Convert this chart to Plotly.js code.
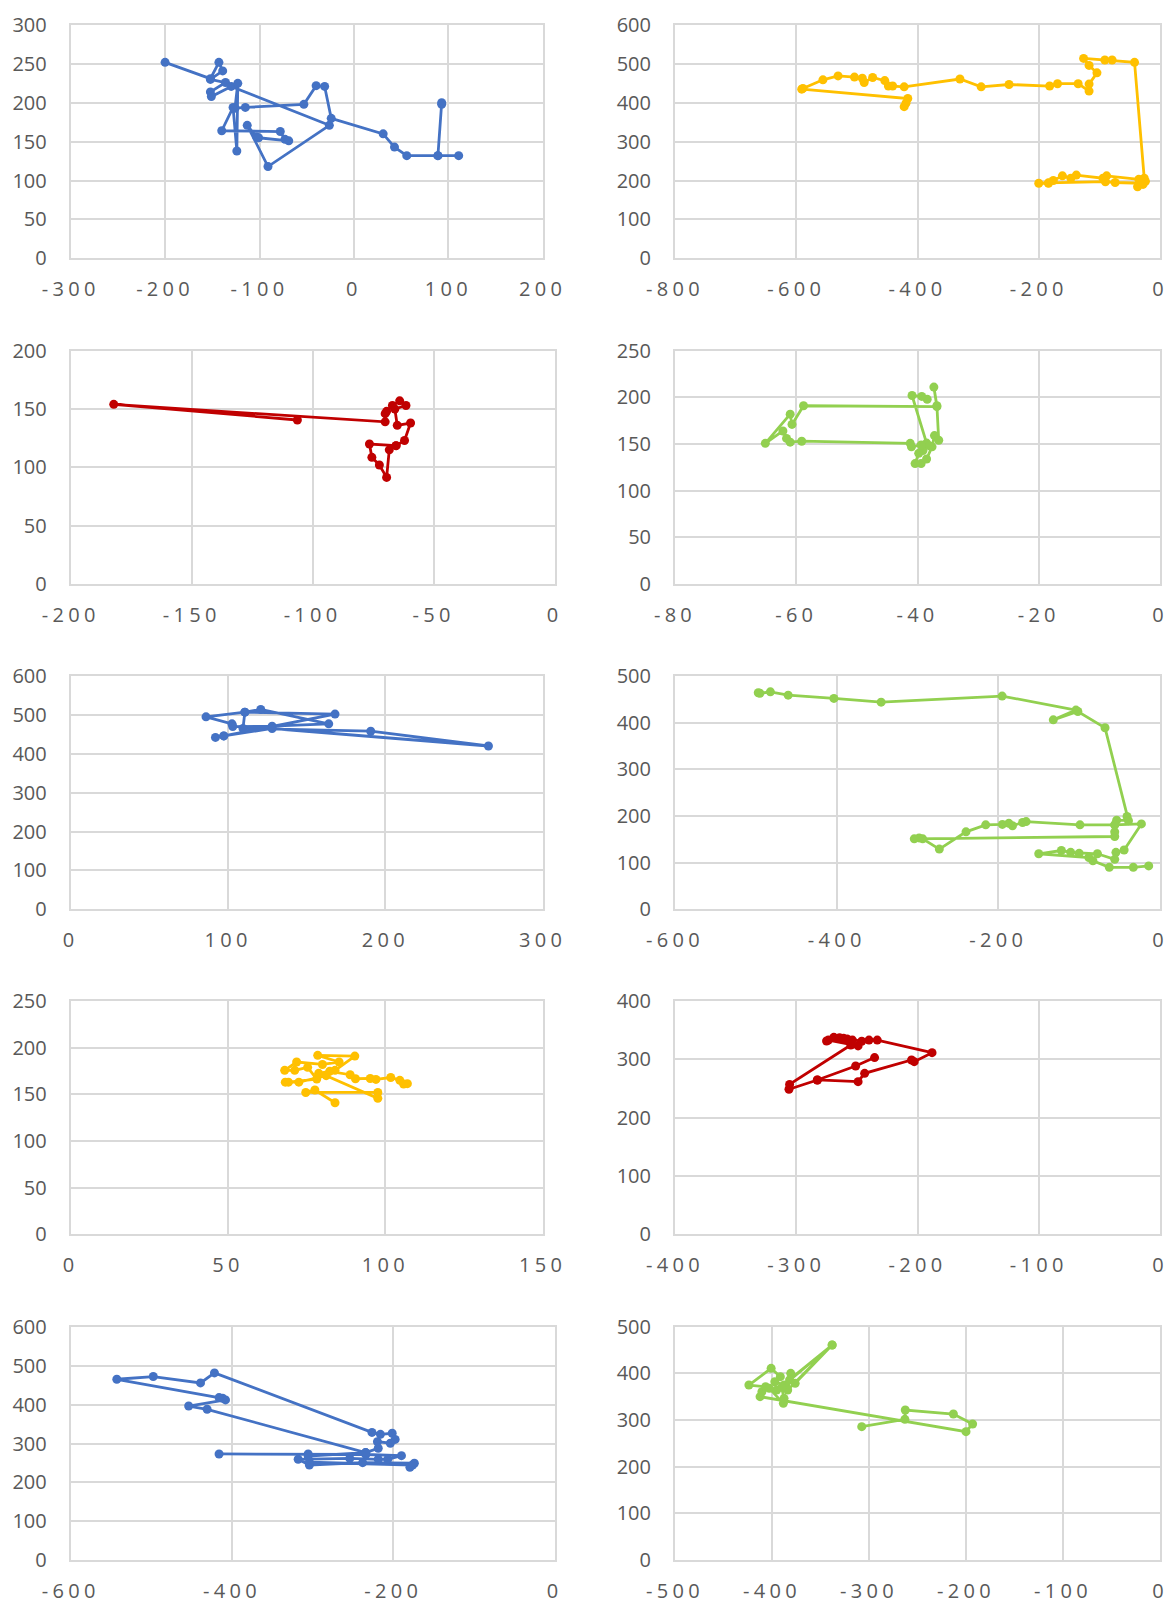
<!DOCTYPE html>
<html><head><meta charset="utf-8">
<script src="https://cdn.plot.ly/plotly-3.0.1.min.js"></script>
<style>
html,body{margin:0;padding:0;background:#fff;}
#chart{width:1168px;height:1602px;}
.xaxislayer-above text{letter-spacing:4.3px;}
</style></head><body><div id="chart"></div>
<script>
// ---- data ----
const p1x=[-200,-152,-143,-139,-152,-136,-152,-151,-130,-26,-91,-113,-103,-101,-69,-73,-78,-140,-128,-124,-123,-126,-115,-53,-40,-31,-24,31,43,56,89,93,93,89,111];
const p1y=[252,231,252,241,230,226,214,208,221,171,118,171,156,155,151,153,163,164,194,138,225,193,194,198,222,221,180,160,143,132,132,198,200,132,132];
const p2x=[-422,-419,-416,-591,-589,-556,-531,-504,-491,-488,-474,-454,-448,-441,-422,-330,-295,-249,-182,-169,-135,-117,-117,-104,-117,-126,-91,-79,-42,-26,-24,-35,-88,-94,-138,-147,-161,-176,-184,-200,-184,-90,-74,-30,-37,-28];
const p2y=[390,399,411,435,437,459,469,466,463,452,465,457,443,443,441,461,441,447,443,449,449,430,448,477,496,514,510,510,504,206,198,203,212,206,214,206,212,200,193,193,194,197,195,193,184,190];
const p3x=[-106.3,-182.2,-70,-70,-69.4,-67,-64,-61.4,-66,-65,-59.5,-62,-65.5,-76.5,-75.5,-72.4,-69.4,-68.3,-65.5];
const p3y=[140.6,154,139,146,148,153,157,153,150,136,138,123,118.6,120,108.6,102,91.4,115,118.6];
const p4x=[-38.4,-39.3,-40.9,-38.5,-39.1,-39.8,-40.4,-39.4,-38.5,-37.6,-37.2,-36.5,-36.8,-37.3,-36.8,-58.8,-60.7,-61,-65.1,-62.2,-61.6,-61,-59.1,-41.2,-41,-39.4,-38];
const p4y=[198,201,202,151,143,140,129,129,134,147,159,154,191,211,190,191,171,182,150.7,164,156,152,153,150.7,147,149,148];
const p5x=[92,97.3,168,110.7,86,102.5,103,128,164,120.8,110.7,109.5,190.7,265.5,128,97.3];
const p5y=[442,446,502,507,495,477,470,471,477,514,507,465,458,420,465,446];
const p6x=[-497,-495,-482,-460,-403.4,-345,-195.3,-104,-132,-101.6,-68,-40.8,-39,-53.6,-56,-99,-165.6,-170,-182.5,-187,-195,-215.6,-240,-273,-293.6,-298,-304,-56,-56,-56,-23,-44.4,-54.5,-56,-77.4,-100,-110.5,-122,-150,-88,-83,-62.7,-33,-14];
const p6y=[464,463,466,459,452,444,457,427,406,424,389,199,190,191,181,181,188,186,179,184.3,182,181,166,129,151,153,151,156,166,181,183,127,122,107,119,120,122,126,119,111,104,90,90,93];
const p7x=[84,77.6,74.7,97.6,97.6,81.2,72.5,68.2,69.2,78.2,75.3,71.2,68,71.8,80,85.3,78.5,90.3,84,78.8,82.3,88.8,90.5,95.2,97,101.7,104.6,105.8,107];
const p7y=[141,154.6,152,152,145.7,170,163,163,163,166.4,178.9,175.7,175.7,184.6,182,184.6,191.8,191,175.7,172.5,174.6,171,166.7,167,166,168,165,161,161.4];
const p8x=[-235.4,-251,-282.6,-306,-305.5,-255,-249,-273.5,-275,-269,-264.3,-261,-258,-253.7,-246,-240,-233.2,-188,-202.7,-204.9,-243.6,-249,-282.6];
const p8y=[303,288.6,264.6,248.6,257,324.6,323,333,331.4,337.7,337,336,335,333,331,333,333,311.4,296,298.9,276,261.7,264.6];
const p9x=[-416,-305.5,-234,-189.8,-206.8,-218.6,-253.9,-317.9,-304,-237.9,-173.8,-179.3,-176,-304,-305.5,-234.2,-430.8,-453.7,-408,-411.6,-416,-542.8,-497.6,-439,-421.7,-226.4,-215.9,-201.3,-197.6,-203.6,-219.6,-218.6,-234.2];
const p9y=[273.4,273.4,272,269,259.7,259.7,262,259.7,245,251,249.4,239,245,252,268,276.9,388.6,397,412.7,417,418.7,466,473,456.6,482.4,329,324,326.7,311,301,305,288,276.9];
const p10x=[-307.5,-263,-262.6,-213,-193.2,-200,-412.3,-410.4,-406.6,-423.8,-400.9,-391.4,-397.1,-387.6,-338,-383.8,-380.7,-381.9,-376.1,-338,-395.2,-402.8,-388.3,-387.6,-390];
const p10y=[285.7,301.4,321.4,312.9,291.4,275,350,360.7,371.4,375,410.7,392.9,382,375,460.7,364.3,400,385.7,378.6,460.7,364.3,367.9,335.7,346.4,370];

// tick values per panel (labels are these numbers as plain text)
const xTicks=[[-300,-200,-100,0,100,200],[-800,-600,-400,-200,0],[-200,-150,-100,-50,0],[-80,-60,-40,-20,0],[0,100,200,300],
  [-600,-400,-200,0],[0,50,100,150],[-400,-300,-200,-100,0],[-600,-400,-200,0],[-500,-400,-300,-200,-100,0]];
const yTicks=[[0,50,100,150,200,250,300],[0,100,200,300,400,500,600],[0,50,100,150,200],[0,50,100,150,200,250],[0,100,200,300,400,500,600],
  [0,100,200,300,400,500],[0,50,100,150,200,250],[0,100,200,300,400],[0,100,200,300,400,500,600],[0,100,200,300,400,500]];

// ---- styling / layout ----
const series=[[p1x,p1y],[p2x,p2y],[p3x,p3y],[p4x,p4y],[p5x,p5y],[p6x,p6y],[p7x,p7y],[p8x,p8y],[p9x,p9y],[p10x,p10y]];
const BLUE='#4472C4',YEL='#FFC000',RED='#C00000',GRN='#92D050';
const colors=[BLUE,YEL,RED,GRN,BLUE,GRN,YEL,RED,BLUE,GRN];
const W=1168,H=1602;
// [left,right,top,bottom] in px
const boxes=[[70.7,542.7,25,258.3],[675,1160,25,258.3],[70.7,554.5,350.7,584],[675,1160,350.7,584],
[70.7,542.7,676,909.3],[675,1160,676,909.3],[70.7,542.7,1001,1234.3],[675,1160,1001,1234.3],
[70.7,554.5,1327.3,1560],[675,1160,1326.7,1560]];

const tickFont={family:'Open Sans, Liberation Sans, sans-serif',size:20,color:'#595959'};
const data=[];
const layout={width:W,height:H,margin:{l:0,r:0,t:0,b:0},paper_bgcolor:'#fff',plot_bgcolor:'#fff',showlegend:false};
series.forEach((s,i)=>{
  const n=i===0?'':String(i+1);
  data.push({x:s[0],y:s[1],xaxis:'x'+n,yaxis:'y'+n,type:'scatter',mode:'lines+markers',
    line:{color:colors[i],width:2.8},marker:{color:colors[i],size:9},hoverinfo:'skip'});
  const b=boxes[i];
  const common={showgrid:true,gridcolor:'#D9D9D9',gridwidth:2,zeroline:false,showline:true,mirror:true,
    linecolor:'#D9D9D9',linewidth:2,ticks:'',tickfont:tickFont,fixedrange:true,tickmode:'array'};
  const xt=xTicks[i], yt=yTicks[i];
  layout['xaxis'+n]=Object.assign({},common,{domain:[b[0]/W,b[1]/W],range:[xt[0],xt[xt.length-1]],
    tickvals:xt,ticktext:xt.map(String),anchor:'y'+n,ticklabelstandoff:12});
  layout['yaxis'+n]=Object.assign({},common,{domain:[1-b[3]/H,1-b[2]/H],range:[yt[0],yt[yt.length-1]],
    tickvals:yt,ticktext:yt.map(String),anchor:'x'+n,ticklabelstandoff:18});
});
Plotly.newPlot('chart',data,layout,{staticPlot:true,displayModeBar:false});
</script></body></html>
